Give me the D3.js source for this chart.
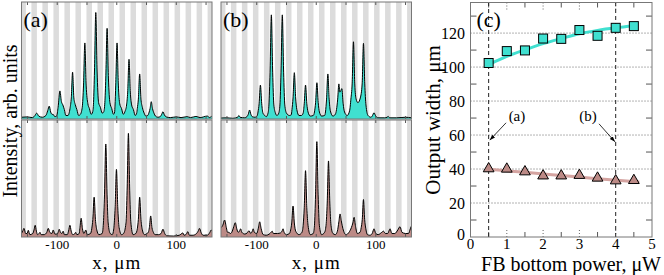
<!DOCTYPE html>
<html lang="en">
<head>
<meta charset="utf-8">
<title>Output intensity and width</title>
<script src="https://cdn.jsdelivr.net/npm/d3@7"></script>
<style>
  body { margin: 0; background: #fff; }
  text { font-family: "Liberation Serif", "Times New Roman", serif; fill: #000; }
  .frame { fill: none; stroke: #777; stroke-width: 1; }
  .tick-line { stroke: #555; stroke-width: 1; }
  .trace { fill: none; stroke: #000; stroke-width: 1; }
</style>
</head>
<body>
<script>
// ---- data ----
// intensity profiles: [x in um, intensity in % of panel height]
var aTop = [[-160,1.5],[-150,1.8],[-142,1.2],[-138,2.5],[-134.5,5],[-131,2.5],[-125,1.5],[-119,3],[-116,7],[-113.4,11],[-111,6],[-108.5,4],[-107,4],[-104,2],[-101,2.5],
  [-98.5,10],[-95.5,24],[-93,15],[-90.5,12],[-88,8],[-85.5,3],[-82,3],
  [-78.5,9],[-76.4,18],[-74.2,40],[-72,18],[-69.5,12],[-67,8],[-64,3],[-61,4],
  [-58,10],[-55.8,29],[-53.6,65],[-51.4,29],[-48.5,13],[-46,9],[-43,4],[-40.5,6],
  [-39,14],[-37.4,41],[-35.2,91],[-33,41],[-30.5,14],[-27.5,10],[-24.5,5],[-22,6],
  [-20,14],[-18.4,35],[-16.2,77.5],[-14,35],[-11.5,14],[-8.5,9],[-5.5,4],[-3.5,6],
  [-3,11],[-1.7,29],[0.5,65],[2.7,29],[5,13],[8,9],[11,4],[13.5,6],
  [16.5,12],[18.4,23],[20.6,51],[22.8,23],[25,12],[28,8],[31,3],[33.5,5],
  [34.5,9],[36.3,17],[38.5,38.5],[40.7,17],[43,10],[46,5],[49,2.5],[52,3],
  [54.5,6],[56,9],[58,14.8],[60,9],[62.5,5],[65,2.5],[69,1.5],[73,2],
  [75.5,4],[77.6,6.2],[80,3.5],[83,1.8],[90,1.2],[100,1.8],[108,1.2],[118,2],[124,1.2],[133,2.2],[140,1.2],[152,2.5],[156,1.2],[160,2.8]];

var aBot = [[-160,3],[-158,5],[-155.8,7.4],[-153,3],[-150.5,3],[-148.6,5.7],[-146,2],[-141,3],[-139,6],[-137,10],[-135,5],[-133,2],[-130.5,3],[-129,4],[-127,2],
  [-122,2],[-117.5,4],[-115,7.4],[-112.5,4],[-109,3],[-106.7,6],[-104,2.5],[-100,2.5],[-98.5,4],[-96.6,6.6],[-94.5,4],[-92,3],[-90,5],[-88,2],
  [-83,2],[-81,5],[-78.7,10],[-76.5,5],[-74,2],[-71,2.5],[-69,4],[-67,2],[-63,3],[-62,7],[-59.8,16],[-57.6,7],[-55,3],[-52,6],[-49.5,2],
  [-44,3],[-42,7],[-40.2,15],[-38,34],[-35.8,15],[-33.5,6],[-30,2],
  [-24.5,3],[-22.4,12],[-20.6,36],[-18.4,79.5],[-16.2,36],[-14.4,12],[-11,3],[-7.5,2],
  [-5,7],[-2.7,26],[-0.5,57.8],[1.7,26],[4,8],[8,2],[11.5,3],
  [15.5,12],[17.4,40],[19.6,88.6],[21.8,40],[23.6,13],[27.5,2],[32,3],
  [34.5,7],[36.3,15],[38.5,34],[40.7,15],[43,6],[46.5,2],[51,3],
  [53,4],[54.8,8],[57,18],[59.2,8],[61.5,4],[64.5,2],[70,2],
  [74.5,3],[77.6,6.7],[80.5,3],[84,1],[95,0.8],[105,1.5],[108,2.5],[111,3.5],[113,1.5],[117,2.5],[119.4,4.6],[122,1.5],
  [128,1.5],[134,3],[136.8,5],[139,7.4],[141.5,4],[145,1.5],[152,1.5],[156.5,4],[158.6,6],[160,5]];

var bTop = [[-160,0.8],[-150,1],[-140,0.6],[-132,1.5],[-130,3],[-128,1.5],[-120,1],[-116.5,2],[-114.2,4],[-112,7.7],[-109.8,4],[-107.5,2],[-103,1.5],
  [-99,3],[-97.8,6],[-96,13],[-93.8,29],[-91.6,13],[-89.5,5],[-86.5,3],[-84,2],
  [-81,5],[-79.5,12],[-77.6,40],[-75.4,89],[-73.2,40],[-71.2,12],[-68.5,5],[-66,3],
  [-63,5],[-61,12],[-59.2,40],[-57,89],[-54.8,40],[-52.8,12],[-50,5],[-45,3],
  [-42,3.5],[-40.8,8],[-39,18],[-36.8,39.6],[-34.6,18],[-32.6,8],[-29,3],[-25,3],
  [-22,5],[-20.2,13],[-18,29],[-15.8,13],[-13.8,6],[-10,2.5],[-5,3],
  [-3,6],[-1.1,14],[1.1,31],[3.3,14],[5.3,6],[9,2.5],[14,3],
  [15.5,6],[17.3,17],[19.5,38.5],[21.7,17],[23.7,7],[28,2.5],[32,4],
  [34,8],[36,17],[38,30],[39.6,23],[41,24],[43,26],[45.2,13],[47.5,6],[52,3],
  [56,7],[58.2,17],[60.3,30],[62.5,66],[64.7,30],[67,17],[70,14],
  [74,18],[77.1,30],[79.3,64.7],[81.5,30],[83.5,12],[87,3],[92,1.5],
  [94.5,3],[97,5.4],[99.5,3],[103,1],[115,1],[119,1.5],[121,2.2],[123,1],[135,1],[150,1.5],[160,1]];

var bBot = [[-160,8],[-157,10],[-154,14.5],[-151,8],[-149,4],[-147,4],[-144,3],[-141,5],[-138.5,9],[-136,12.2],[-133.5,7],[-131,4],[-129,5],[-127,7],[-125,4],
  [-120,2.5],[-116,3.5],[-113,5.4],[-110,3],[-107.5,5],[-106,7],[-104,4],[-100,3],[-97.5,7],[-95,13],[-92.5,7],[-89,2],
  [-84,1.5],[-79,2.5],[-76,4],[-74,5],[-72,3],[-65,3],[-60,3.5],[-57.5,5],[-55.8,7],[-54,4],[-50,2],
  [-45,3],[-43,6],[-41.2,12],[-39,26.5],[-36.8,12],[-34.5,5],[-29,2],
  [-24,4],[-22,10],[-20.2,25],[-18,56.7],[-15.8,25],[-13.8,10],[-10,2],
  [-5,3],[-3,10],[-1.2,36],[1,81.5],[3.2,36],[5.2,10],[9,2],
  [14,4],[16.4,10],[18.4,29],[20.6,65],[22.8,29],[24.8,10],[28,3],[32,2],
  [35.5,5],[38,13],[40,19.7],[42,14],[43.5,10],[46,5],[50,2],
  [55,4],[59,8],[61.5,12],[63.6,16.8],[66,9],[69,3],
  [73.5,4],[75.5,8],[77.3,15],[79.3,32],[81.3,15],[83.3,7],[86,2],[90,1.5],
  [94,3],[97,7],[100,3],[104,2],[110,4],[113,5],[116,3],[120,3],[124,7],[127,3],
  [132,3],[137,6],[140.7,8.8],[144,4],[150,3],[155,3],[158,7],[160,9.5]];

// waveguide stripes (centres, um) and their width
var stripeCenters = [-157.25,-138.75,-120.25,-101.75,-83.25,-64.75,-46.25,-27.75,-9.25,
                     9.25,27.75,46.25,64.75,83.25,101.75,120.25,138.75,157.25];
var stripeWidth = 9.25;
var profileTicks = [-150,-100,-50,0,50,100,150];
var profileLabels = [-100,0,100];

// panel (c)
var power = [0.5,1,1.5,2,2.5,3,3.5,4,4.5];
var widthTop = [102.4,109.4,109.8,116.8,116.6,121.8,118.4,123.1,124.1];
var widthBot = [40.2,40.0,38.4,36.0,36.0,36.3,34.7,33.1,33.3];
var fitTop = [[0.4,100.4],[0.75,104],[1,106.3],[1.5,110.2],[2,113.8],[2.5,116.8],[3,119.6],[3.5,121.6],[4,123.1],[4.5,124.3]];
var fitBot = [[0.4,40],[1.5,38.1],[2.5,36.2],[3.5,34.3],[4.65,32.3]];
var cXTicks = [0,1,2,3,4,5];
var cYTicks = [0,20,40,60,80,100,120];
var markLines = [0.5,4];

var cyan = "#40e0d0", rose = "#bc8a86", roseFit = "#d4a3a0";

var svg = d3.select("body").append("svg")
  .attr("width", 664).attr("height", 275);

// ---- panels (a) and (b) ----
var yTop = d3.scaleLinear().domain([0,100]).range([119,2]);
var yBot = d3.scaleLinear().domain([0,100]).range([237,120]);

function profilePanel(id, left, right, top, bot, letter) {
  var x = d3.scaleLinear().domain([-160,160]).range([left, right]);
  var g = svg.append("g");

  [[top, yTop, cyan], [bot, yBot, rose]].forEach(function(s, i) {
    var data = s[0], y = s[1], col = s[2];
    var y0 = y.range()[0], y1 = y.range()[1];
    var clipId = "clip-" + id + i;
    svg.append("clipPath").attr("id", clipId)
      .append("rect").attr("x", left).attr("y", y1)
      .attr("width", right - left).attr("height", y0 - y1);
    var p = g.append("g").attr("clip-path", "url(#" + clipId + ")");

    p.selectAll("rect.stripe").data(stripeCenters).enter().append("rect")
      .attr("class", "stripe")
      .attr("x", function(d) { return x(d - stripeWidth / 2); })
      .attr("width", x(stripeWidth) - x(0))
      .attr("y", y1).attr("height", y0 - y1)
      .attr("fill", "#dcdcdc");

    var area = d3.area().curve(d3.curveMonotoneX)
      .x(function(d) { return x(d[0]); })
      .y0(y(0)).y1(function(d) { return y(d[1]); });
    var line = d3.line().curve(d3.curveMonotoneX)
      .x(function(d) { return x(d[0]); })
      .y(function(d) { return y(d[1]); });
    p.append("path").datum(data).attr("d", area).attr("fill", col);
    p.append("path").datum(data).attr("d", line).attr("class", "trace");

    // inward ticks on top and bottom
    g.selectAll(null).data(profileTicks).enter().append("line")
      .attr("class", "tick-line")
      .attr("x1", x).attr("x2", x).attr("y1", y0).attr("y2", y0 - 3);
    g.selectAll(null).data(profileTicks).enter().append("line")
      .attr("class", "tick-line")
      .attr("x1", x).attr("x2", x).attr("y1", y1).attr("y2", y1 + 3);

    g.append("rect").attr("class", "frame")
      .attr("x", left).attr("y", y1)
      .attr("width", right - left).attr("height", y0 - y1);
  });

  g.selectAll("text.tl").data(profileLabels).enter().append("text")
    .attr("class", "tl")
    .attr("x", x).attr("y", 249)
    .attr("text-anchor", "middle")
    .style("font-size", "13px")
    .text(function(d) { return d; });

  g.append("text").attr("x", x(0)).attr("y", 269)
    .attr("text-anchor", "middle").style("font-size", "19px")
    .style("letter-spacing", "1px")
    .text("x, \u03bcm");

  g.append("text").attr("x", left + 2).attr("y", 27)
    .style("font-size", "22px").text(letter);
}

profilePanel("a", 21.5, 212, aTop, aBot, "(a)");
profilePanel("b", 221, 411.5, bTop, bBot, "(b)");

svg.append("text")
  .attr("transform", "translate(17,121) rotate(-90)")
  .attr("text-anchor", "middle").style("font-size", "20px")
  .text("Intensity, arb. units");

// ---- panel (c) ----
var xC = d3.scaleLinear().domain([0,5]).range([470.5,652]);
var yC = d3.scaleLinear().domain([0,138]).range([237,2.5]);
var c = svg.append("g");

// horizontal dotted grid
c.selectAll("line.hg").data(cYTicks.slice(1)).enter().append("line")
  .attr("x1", xC(0)).attr("x2", xC(5))
  .attr("y1", yC).attr("y2", yC)
  .attr("stroke", "#666").attr("stroke-dasharray", "1,2");

// minor y ticks left and right
var cYMinor = [10,30,50,70,90,110,130];
c.selectAll(null).data(cYMinor).enter().append("line").attr("class", "tick-line")
  .attr("x1", xC(0)).attr("x2", xC(0) + 6).attr("y1", yC).attr("y2", yC);
c.selectAll(null).data(cYMinor).enter().append("line").attr("class", "tick-line")
  .attr("x1", xC(5)).attr("x2", xC(5) - 6).attr("y1", yC).attr("y2", yC);

// x ticks: dotted majors, solid minors, top and bottom
var cXMinor = [0.5,1.5,2.5,3.5,4.5];
[yC(0), yC(138)].forEach(function(yy, i) {
  var dir = i === 0 ? -1 : 1;
  c.selectAll(null).data(cXTicks.slice(1, 5)).enter().append("line")
    .attr("x1", xC).attr("x2", xC).attr("y1", yy).attr("y2", yy + dir * 8)
    .attr("stroke", "#666").attr("stroke-dasharray", "1,2");
  c.selectAll(null).data(cXMinor).enter().append("line").attr("class", "tick-line")
    .attr("x1", xC).attr("x2", xC).attr("y1", yy).attr("y2", yy + dir * 5);
});

// dashed marker lines at the powers of (a) and (b)
c.selectAll("line.mk").data(markLines).enter().append("line")
  .attr("x1", xC).attr("x2", xC).attr("y1", yC(0)).attr("y2", yC(138))
  .attr("stroke", "#222").attr("stroke-dasharray", "4,3");

// fits
var fitLine = d3.line().curve(d3.curveMonotoneX)
  .x(function(d) { return xC(d[0]); }).y(function(d) { return yC(d[1]); });
c.append("path").datum(fitTop).attr("d", fitLine)
  .attr("fill", "none").attr("stroke", cyan).attr("stroke-width", 3);
c.append("path").datum(fitBot).attr("d", fitLine)
  .attr("fill", "none").attr("stroke", roseFit).attr("stroke-width", 3);

// squares
c.selectAll("rect.sq").data(power).enter().append("rect")
  .attr("x", function(d) { return xC(d) - 4.5; })
  .attr("y", function(d, i) { return yC(widthTop[i]) - 4.5; })
  .attr("width", 9).attr("height", 9)
  .attr("fill", cyan).attr("stroke", "#000").attr("stroke-width", 1);

// triangles
var tri = d3.symbol().type(d3.symbolTriangle).size(50);
c.selectAll("path.tr").data(power).enter().append("path")
  .attr("transform", function(d, i) { return "translate(" + xC(d) + "," + yC(widthBot[i]) + ")"; })
  .attr("d", tri)
  .attr("fill", rose).attr("stroke", "#000").attr("stroke-width", 1);

c.append("rect").attr("class", "frame")
  .attr("x", xC(0)).attr("y", yC(138))
  .attr("width", xC(5) - xC(0)).attr("height", yC(0) - yC(138));

// tick labels
c.selectAll("text.xt").data(cXTicks).enter().append("text")
  .attr("x", xC).attr("y", 249).attr("text-anchor", "middle")
  .style("font-size", "15px").text(function(d) { return d; });
c.selectAll("text.yt").data(cYTicks).enter().append("text")
  .attr("x", 465).attr("y", function(d) { return d === 0 ? yC(d) + 3 : yC(d) + 5.5; })
  .attr("text-anchor", "end")
  .style("font-size", "16px").text(function(d) { return d; });

c.append("text").attr("x", 661).attr("y", 271).attr("text-anchor", "end")
  .style("font-size", "20px").text("FB bottom power, \u03bcW");
c.append("text")
  .attr("transform", "translate(440,120) rotate(-90)")
  .attr("text-anchor", "middle").style("font-size", "21px")
  .text("Output width, \u03bcm");
c.append("text").attr("x", xC(0) + 6).attr("y", 27)
  .style("font-size", "22px").text("(c)");

// annotations with arrows
svg.append("defs").append("marker").attr("id", "arrow")
  .attr("viewBox", "0 0 10 10").attr("refX", 10).attr("refY", 5)
  .attr("markerWidth", 7).attr("markerHeight", 7).attr("orient", "auto")
  .append("path").attr("d", "M0,1.5L10,5L0,8.5Z").attr("fill", "#000");

var notes = [
  { label: "(a)", tx: 1.28, ty: 68.5, from: [0.98, 67.2], to: [0.53, 57] },
  { label: "(b)", tx: 3.24, ty: 68.5, from: [3.54, 66.6], to: [3.98, 56] }
];
notes.forEach(function(n) {
  c.append("text").attr("x", xC(n.tx)).attr("y", yC(n.ty))
    .attr("text-anchor", "middle").style("font-size", "15px").text(n.label);
  c.append("line")
    .attr("x1", xC(n.from[0])).attr("y1", yC(n.from[1]))
    .attr("x2", xC(n.to[0])).attr("y2", yC(n.to[1]))
    .attr("stroke", "#000").attr("stroke-width", 0.8)
    .attr("marker-end", "url(#arrow)");
});
</script>
</body>
</html>
